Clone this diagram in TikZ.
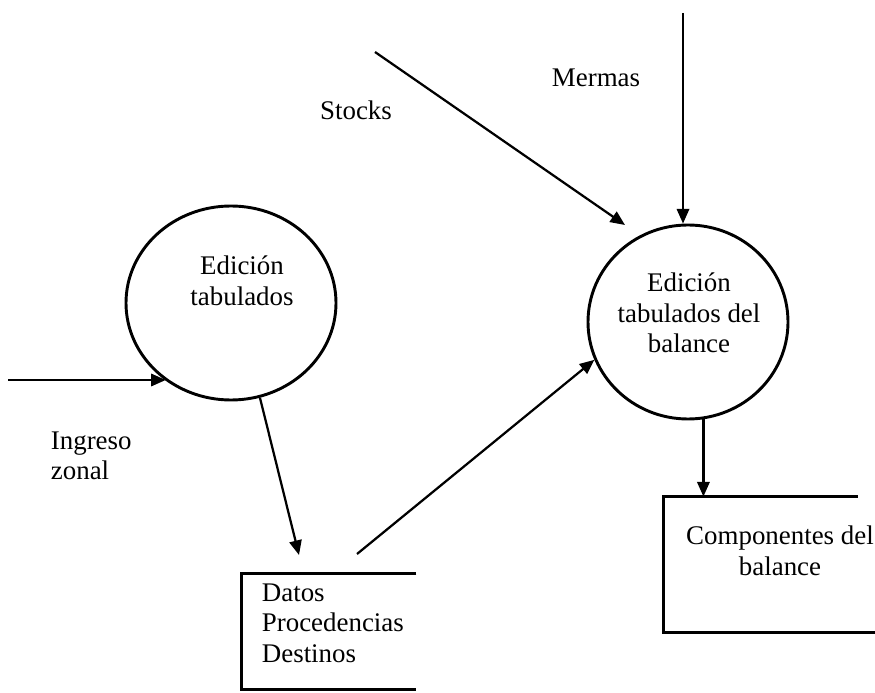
\documentclass[tikz,border=0pt]{standalone}
\usepackage{fontspec}
\setmainfont{Liberation Serif}
\usetikzlibrary{arrows.meta,shapes.geometric}
\newcommand{\pxu}{0.446pt}

\begin{document}
\begin{tikzpicture}[x=\pxu,y=-\pxu,font=\fontsize{12pt}{13.6pt}\selectfont,
  proc/.style={draw,ellipse,line width=1.3pt,inner sep=0pt},
  flow/.style={-{Triangle[length=6.5pt,width=5.5pt]},line width=1pt},
  store/.style={line width=1.3pt}]
\useasboundingbox (0,0) rectangle (875,693);
% processes
\node[proc,minimum width=210*\pxu,minimum height=194*\pxu] (edtab) at (231,303) {};
\node[align=center] (edtabtxt) at (242,281) {Edición\\tabulados};
\node[proc,minimum width=200*\pxu,minimum height=194*\pxu] (edbal) at (688,322) {};
\node[align=center] (edbaltxt) at (689,313) {Edición\\tabulados del\\balance};
% stores
\node[minimum width=174*\pxu,minimum height=115*\pxu,inner sep=0pt] (datos) at (329,631.5) {};
\draw[store] (datos.north east) -- (datos.north west) -- (datos.south west) -- (datos.south east);
\node[align=left,anchor=west] (datostxt) at (254,623) {Datos\\Procedencias\\Destinos};
\node[minimum width=211*\pxu,minimum height=135*\pxu,inner sep=0pt] (comp) at (769.5,564.5) {};
\draw[store] (comp.north west) ++(194,0) -- (comp.north west) -- (comp.south west) -- (comp.south east);
\node[align=center] (comptxt) at (780,551) {Componentes del\\balance};
% flows
\coordinate (ingin) at (8,380);
\draw[flow] (ingin) -- (ingin -| edtab.230);
\node[align=left,anchor=west] (ingtxt) at (43,456) {Ingreso\\zonal};
\coordinate (datin) at (299,555);
\draw[flow] (edtab.-73) -- (datin);
\coordinate (datout) at (357,554);
\draw[flow] (datout) -- (edbal.202);
\coordinate (stkin) at (375,52);
\coordinate (stkend) at (625,225);
\draw[flow] (stkin) -- (stkend);
\node (stktxt) at (356,110) {Stocks};
\coordinate (merin) at (683,13);
\draw[flow] (merin) -- (merin |- edbal.north);
\node (mertxt) at (596,78) {Mermas};
\draw[flow] (edbal.-81) -- (edbal.-81 |- comp.north);
\end{tikzpicture}
\end{document}
